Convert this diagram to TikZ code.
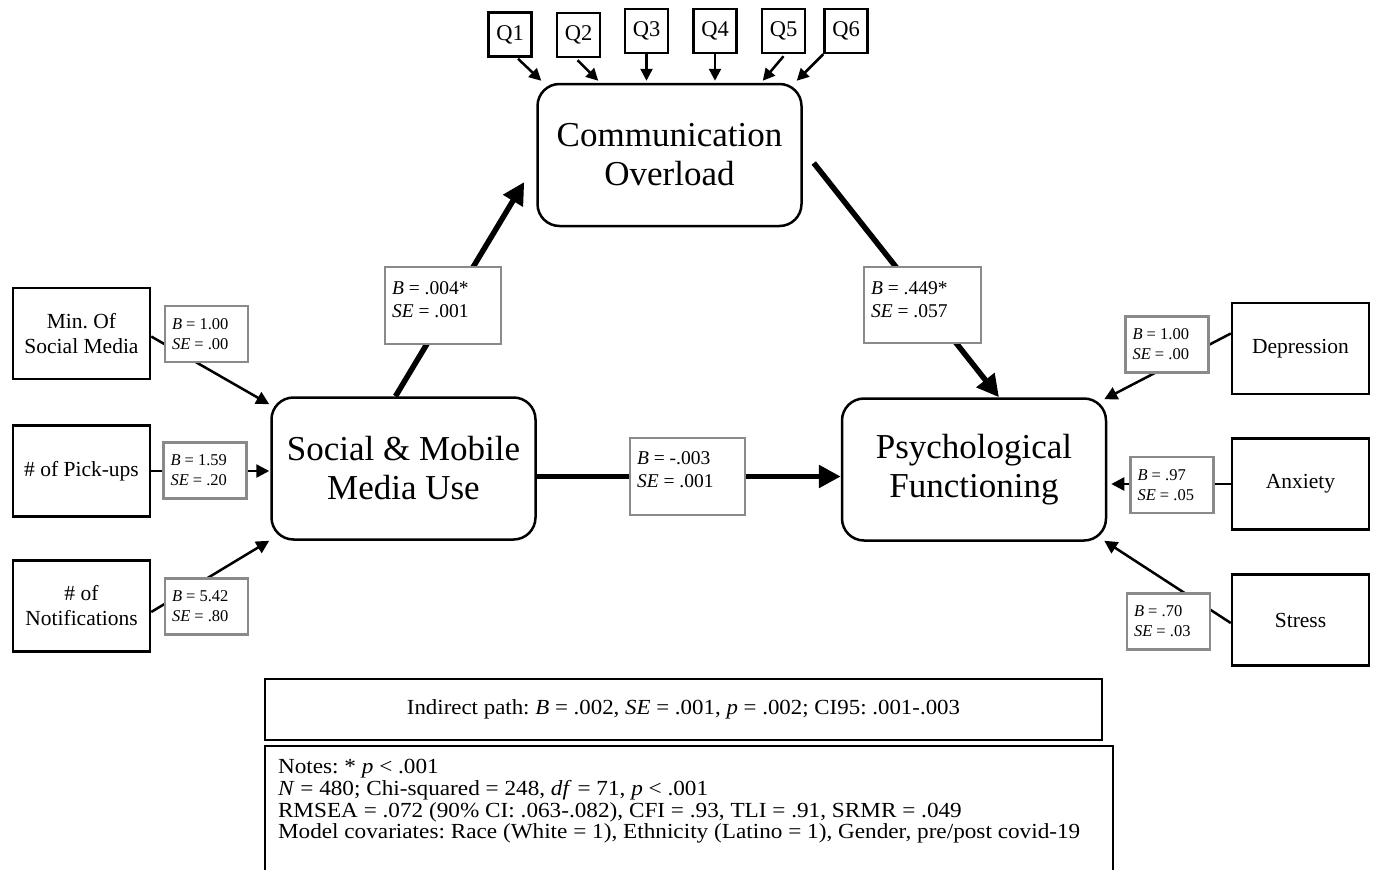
\documentclass[tikz,border=0pt]{standalone}
\usepackage{fontspec}
\setmainfont{Liberation Serif}
\newfontfamily\notesfont{Liberation Serif}[FakeStretch=1.08]
\newfontfamily\indfont{Liberation Serif}[FakeStretch=1.065]
\usetikzlibrary{arrows.meta,calc}
\definecolor{gr}{RGB}{138,138,138}
\frenchspacing
\begin{document}
\begin{tikzpicture}[x=1pt,y=-1pt,
 box/.style={draw, line width=2.5pt, inner sep=0pt, align=center},
 latent/.style={box, rounded corners=22pt, minimum width=264, minimum height=142, font=\fontsize{35}{39}\selectfont},
 ind/.style={box, minimum width=137, minimum height=91, font=\fontsize{21.5}{25}\selectfont},
 qbox/.style={box, minimum width=43, minimum height=44, font=\fontsize{22.5}{24}\selectfont},
 slab/.style={draw=gr, line width=2.5pt, fill=white, inner sep=0pt, minimum width=83, minimum height=56, font=\fontsize{16.5}{20}\selectfont},
 plab/.style={draw=gr, line width=2.5pt, fill=white, inner sep=0pt, font=\fontsize{19.5}{23.5}\selectfont},
 tarrow/.style={line width=2.5pt, -{Triangle[length=13pt,width=13pt]}},
 qarrow/.style={line width=2.5pt, -{Triangle[length=12pt,width=12pt]}},
 barrow/.style={line width=5.5pt, -{Triangle[length=22pt,width=22pt]}},
]
\useasboundingbox (0,0) rectangle (1376,870);

% latent variables
\node[latent] (com) at (669.5,155) {Communication\\Overload};
\node[latent] (soc) at (403.5,468.5) {Social \& Mobile\\Media Use};
\node[latent] (psy) at (974,469.5) {Psychological\\Functioning};

% Q items
\node[qbox] (q1) at (510,34.5) {Q1};
\node[qbox] (q2) at (578.5,35) {Q2};
\node[qbox] (q3) at (646.5,31) {Q3};
\node[qbox] (q4) at (715,31) {Q4};
\node[qbox] (q5) at (783.5,31) {Q5};
\node[qbox] (q6) at (846,31) {Q6};

\draw[qarrow] ($(q1.south)+(8,1)$) -- ($(com.north west)+(5,-2)$);
\draw[qarrow] ($(q2.south)+(-1,2)$) -- ($(com.north west)+(62,-2)$);
\draw[qarrow, shorten >=2pt] (q3.south) -- (q3.south |- com.north);
\draw[qarrow, shorten >=2pt] (q4.south) -- (q4.south |- com.north);
\draw[qarrow] ($(q5.south)+(0,2)$) -- ($(com.north east)+(-40,-2)$);
\draw[qarrow] (q6.south west) -- ($(com.north east)+(-6,-2)$);

% structural paths
\draw[barrow] ($(soc.north)+(-8,0)$) -- ($(com.west)+(-12,27)$);
\node[plab, minimum width=116, minimum height=77] (l1) at (443,305.5)
  {\parbox[c][77pt][t]{102pt}{\vspace*{11pt}\strut\textit{B} = .004*\\\textit{SE} = .001}};

\draw[barrow] ($(com.east)+(11,8)$) -- ($(psy.north)+(25,0)$);
\node[plab, minimum width=117, minimum height=76] (l2) at (922.5,305)
  {\parbox[c][76pt][t]{103pt}{\vspace*{11pt}\strut\textit{B} = .449*\\\textit{SE} = .057}};

\coordinate (s1) at ($(soc.east)+(0,8)$);
\draw[barrow] (s1) -- (s1 -| psy.west);
\node[plab, minimum width=115, minimum height=77] (l3) at (687.5,476.5)
  {\parbox[c][77pt][t]{101pt}{\vspace*{10pt}\strut\textit{B} = -.003\\\textit{SE} = .001}};

% left indicators
\node[ind] (min) at (81.5,333.5) {Min. Of\\Social Media};
\node[ind] (pick) at (81.5,471) {\# of Pick-ups};
\node[ind] (notif) at (81.5,606) {\# of\\Notifications};

\draw[tarrow] ($(min.east)+(0,3)$) -- ($(soc.north west)+(-1,8)$);
\draw[tarrow, shorten >=1pt] (pick.east) -- (pick.east -| soc.west);
\draw[tarrow] ($(notif.east)+(0,6)$) -- ($(soc.south west)+(-1,0)$);

\node[slab] (lmin) at (206.5,334) {\parbox{69pt}{\textit{B} = 1.00\\\textit{SE} = .00}};
\node[slab] (lpick) at (205,470.5) {\parbox{69pt}{\textit{B} = 1.59\\\textit{SE} = .20}};
\node[slab] (lnot) at (206.5,606.5) {\parbox{69pt}{\textit{B} = 5.42\\\textit{SE} = .80}};

% right indicators
\node[ind] (dep) at (1300.5,348.5) {Depression};
\node[ind] (anx) at (1300.5,484) {Anxiety};
\node[ind] (str) at (1300.5,620) {Stress};

\draw[tarrow] ($(dep.west)+(0,-15)$) -- ($(psy.north east)+(-3,2)$);
\draw[tarrow, shorten >=4pt] (anx.west) -- (anx.west -| psy.east);
\draw[tarrow] ($(str.west)+(0,3)$) -- ($(psy.south east)+(-3,-1)$);

\node[slab] (ldep) at (1167,344.5) {\parbox{69pt}{\textit{B} = 1.00\\\textit{SE} = .00}};
\node[slab] (lanx) at (1172,485) {\parbox{69pt}{\textit{B} = .97\\\textit{SE} = .05}};
\node[slab] (lstr) at (1168.5,621.5) {\parbox{69pt}{\textit{B} = .70\\\textit{SE} = .03}};

% bottom boxes
\node[box, minimum width=837, minimum height=61, font=\indfont\fontsize{21.5}{24}\selectfont] (ind) at (683.5,709.5)
  {Indirect path: \textit{B} = .002, \textit{SE} = .001, \textit{p} = .002; CI95: .001-.003};
\node[box, minimum width=848, minimum height=140, font=\notesfont\fontsize{21.5}{21.5}\selectfont] (notes) at (689,816)
  {\parbox[c][140pt][t]{822pt}{\vspace*{12pt}\strut Notes: * \textit{p} < .001\\
   \textit{N} = 480; Chi-squared = 248, \textit{df} = 71, \textit{p} < .001\\
   RMSEA = .072 (90\% CI: .063-.082), CFI = .93, TLI = .91, SRMR = .049\\
   Model covariates: Race (White = 1), Ethnicity (Latino = 1), Gender, pre/post covid-19}};
\end{tikzpicture}
\end{document}
